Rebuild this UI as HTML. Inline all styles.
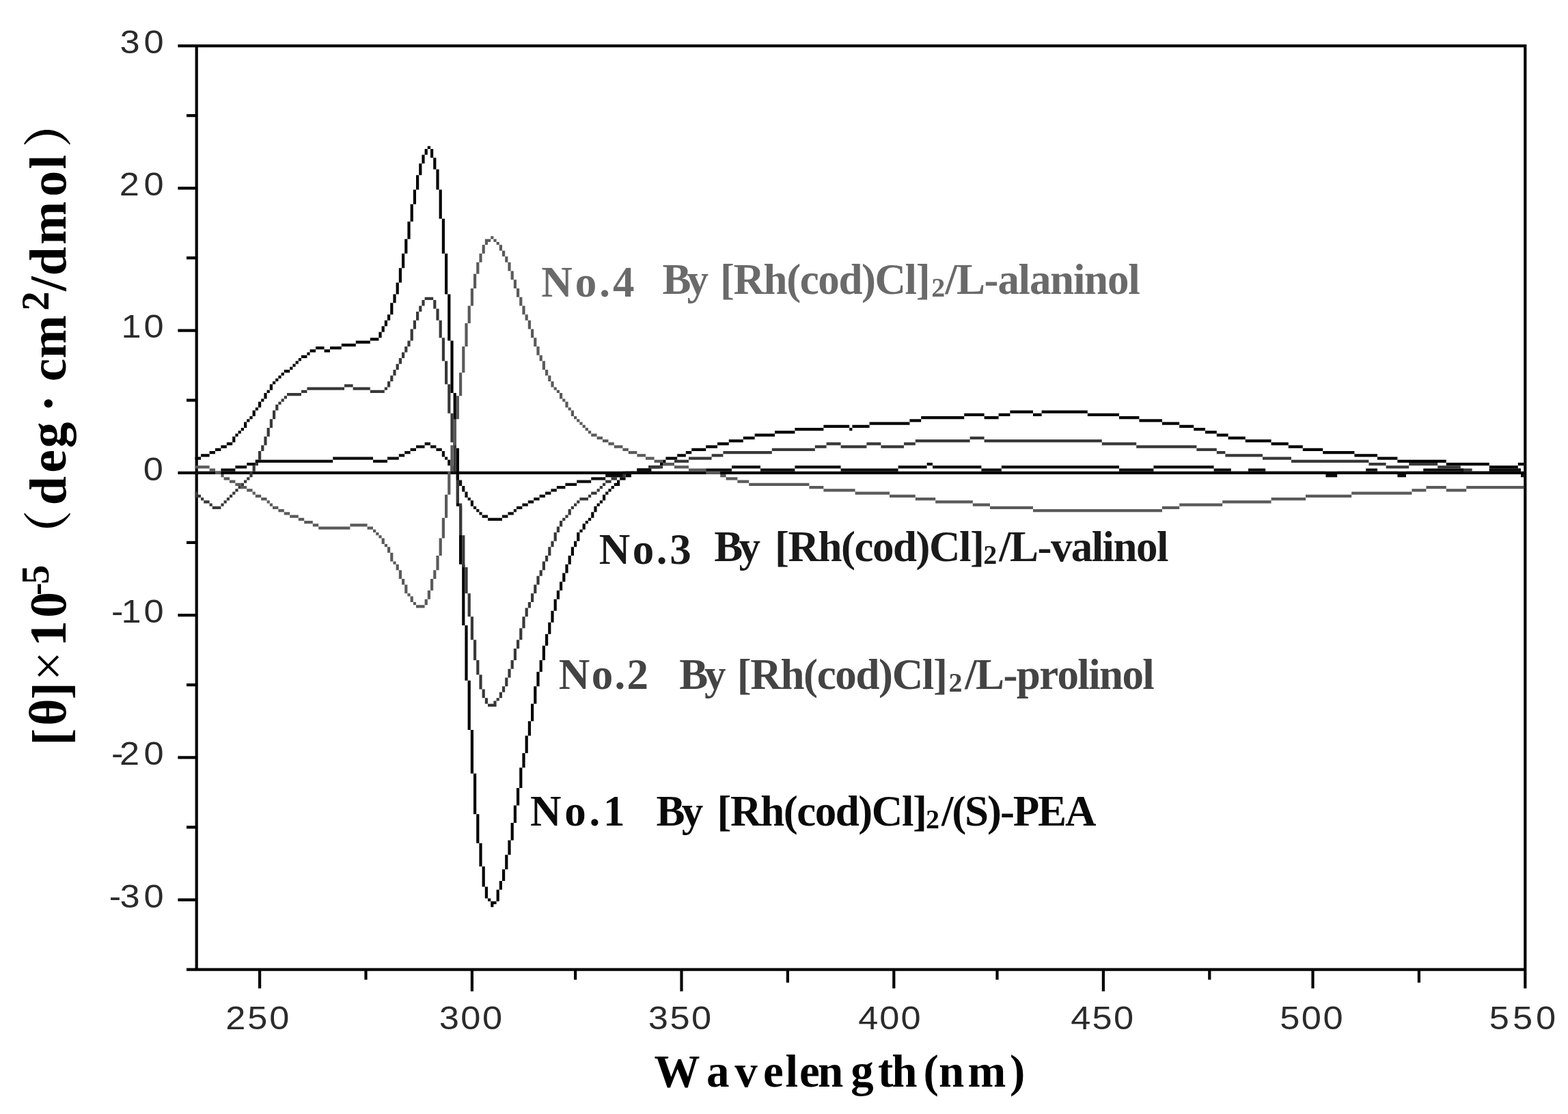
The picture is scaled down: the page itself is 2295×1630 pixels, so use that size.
<!DOCTYPE html>
<html lang="en"><head><meta charset="utf-8"><title>CD spectra</title>
<style>html,body{margin:0;padding:0;background:#fff}body{width:2295px;height:1630px;overflow:hidden}svg{display:block}.tk{font-family:"Liberation Sans",sans-serif}.sb{font-family:"Liberation Serif","Noto Serif CJK SC",serif;font-weight:bold}</style></head><body>
<svg width="2295" height="1630" viewBox="0 0 2295 1630">
<rect width="2295" height="1630" fill="#fff"/>
<path d="M285.6 65H289.8V1420.75H285.6zM2230.2 65H2234.4V1446.25H2230.2zM260.4 65H2234.4V69.25H260.4zM273 1416.5H2234.4V1420.75H273zM260.4 689.75H2234.4V694H260.4zM260.4 273.25H286.6V277.5H260.4zM260.4 481.5H286.6V485.75H260.4zM260.4 898H286.6V902.25H260.4zM260.4 1106.25H286.6V1110.5H260.4zM260.4 1314.5H286.6V1318.75H260.4zM273 167H286.6V171.25H273zM273 375.25H286.6V379.5H273zM273 583.5H286.6V587.75H273zM273 791.75H286.6V796H273zM273 1000H286.6V1004.25H273zM273 1208.25H286.6V1212.5H273zM378 1419.75H382.2V1446.25H378zM688.8 1419.75H693V1450.5H688.8zM995.4 1419.75H999.6V1450.5H995.4zM1306.2 1419.75H1310.4V1446.25H1306.2zM1612.8 1419.75H1617V1450.5H1612.8zM1919.4 1419.75H1923.6V1446.25H1919.4zM533.4 1419.75H537.6V1433.5H533.4zM840 1419.75H844.2V1433.5H840zM1150.8 1419.75H1155V1437.75H1150.8zM1457.4 1419.75H1461.6V1433.5H1457.4zM1768.2 1419.75H1772.4V1433.5H1768.2zM2074.8 1419.75H2079V1437.75H2074.8z" fill="#000"/>
<path d="M285.6 668.5h8.4v4.25h-8.4zM294 664.25h12.6v4.25h-12.6zM306.6 660h8.4v4.25h-8.4zM315 655.75h8.4v4.25h-8.4zM323.4 651.5h8.4v4.25h-8.4zM331.8 647.25h8.4v4.25h-8.4zM340.2 638.75h4.2v8.5h-4.2zM344.4 634.5h4.2v4.25h-4.2zM348.6 630.25h4.2v4.25h-4.2zM352.8 626h4.2v4.25h-4.2zM357 617.5h4.2v8.5h-4.2zM361.2 613.25h4.2v4.25h-4.2zM365.4 609h4.2v4.25h-4.2zM369.6 600.5h4.2v8.5h-4.2zM373.8 596.25h4.2v4.25h-4.2zM378 587.75h4.2v8.5h-4.2zM382.2 583.5h4.2v4.25h-4.2zM386.4 575h4.2v8.5h-4.2zM390.6 570.75h4.2v4.25h-4.2zM394.8 562.25h4.2v8.5h-4.2zM399 558h4.2v4.25h-4.2zM403.2 553.75h4.2v4.25h-4.2zM407.4 549.5h4.2v4.25h-4.2zM411.6 545.25h4.2v4.25h-4.2zM415.8 541h8.4v4.25h-8.4zM424.2 536.75h4.2v4.25h-4.2zM428.4 532.5h4.2v4.25h-4.2zM432.6 528.25h4.2v4.25h-4.2zM436.8 524h4.2v4.25h-4.2zM441 519.75h8.4v4.25h-8.4zM449.4 515.5h4.2v4.25h-4.2zM453.6 511.25h8.4v4.25h-8.4zM462 507h12.6v4.25h-12.6zM474.6 511.25h8.4v4.25h-8.4zM483 507h16.8v4.25h-16.8zM499.8 502.75h21v4.25h-21zM520.8 498.5h21v4.25h-21zM541.8 494.25h12.6v4.25h-12.6zM554.4 485.75h4.2v8.5h-4.2zM558.6 477.25h4.2v8.5h-4.2zM562.8 468.75h4.2v8.5h-4.2zM567 460.25h4.2v8.5h-4.2zM571.2 443.25h4.2v17h-4.2zM575.4 430.5h4.2v12.75h-4.2zM579.6 413.5h4.2v17h-4.2zM583.8 392.25h4.2v21.25h-4.2zM588 371h4.2v21.25h-4.2zM592.2 349.75h4.2v21.25h-4.2zM596.4 324.25h4.2v25.5h-4.2zM600.6 298.75h4.2v25.5h-4.2zM604.8 277.5h4.2v21.25h-4.2zM609 256.25h4.2v21.25h-4.2zM613.2 239.25h4.2v17h-4.2zM617.4 226.5h4.2v12.75h-4.2zM621.6 218h4.2v8.5h-4.2zM625.8 213.75h4.2v4.25h-4.2zM630 218h4.2v12.75h-4.2zM634.2 230.75h4.2v17h-4.2zM638.4 247.75h4.2v29.75h-4.2zM642.6 277.5h4.2v42.5h-4.2zM646.8 320h4.2v51h-4.2zM651 371h4.2v59.5h-4.2zM655.2 430.5h4.2v68h-4.2zM659.4 498.5h4.2v76.5h-4.2zM663.6 575h4.2v80.75h-4.2zM667.8 655.75h4.2v85h-4.2zM672 740.75h4.2v85h-4.2zM676.2 825.75h4.2v89.25h-4.2zM680.4 915h4.2v80.75h-4.2zM684.6 995.75h4.2v72.25h-4.2zM688.8 1068h4.2v63.75h-4.2zM693 1131.75h4.2v59.5h-4.2zM697.2 1191.25h4.2v42.5h-4.2zM701.4 1233.75h4.2v34h-4.2zM705.6 1267.75h4.2v29.75h-4.2zM709.8 1297.5h4.2v17h-4.2zM714 1314.5h4.2v4.25h-4.2zM718.2 1318.75h4.2v8.5h-4.2zM722.4 1318.75h4.2v4.25h-4.2zM726.6 1301.75h4.2v17h-4.2zM730.8 1289h4.2v12.75h-4.2zM735 1272h4.2v17h-4.2zM739.2 1250.75h4.2v21.25h-4.2zM743.4 1229.5h4.2v21.25h-4.2zM747.6 1204h4.2v25.5h-4.2zM751.8 1178.5h4.2v25.5h-4.2zM756 1153h4.2v25.5h-4.2zM760.2 1123.25h4.2v29.75h-4.2zM764.4 1102h4.2v21.25h-4.2zM768.6 1076.5h4.2v25.5h-4.2zM772.8 1055.25h4.2v21.25h-4.2zM777 1029.75h4.2v25.5h-4.2zM781.2 1004.25h4.2v25.5h-4.2zM785.4 983h4.2v21.25h-4.2zM789.6 966h4.2v17h-4.2zM793.8 944.75h4.2v21.25h-4.2zM798 927.75h4.2v17h-4.2zM802.2 910.75h4.2v17h-4.2zM806.4 893.75h4.2v17h-4.2zM810.6 876.75h4.2v17h-4.2zM814.8 864h4.2v12.75h-4.2zM819 851.25h4.2v12.75h-4.2zM823.2 838.5h4.2v12.75h-4.2zM827.4 825.75h4.2v12.75h-4.2zM831.6 813h4.2v12.75h-4.2zM835.8 800.25h4.2v12.75h-4.2zM840 791.75h4.2v8.5h-4.2zM844.2 779h4.2v12.75h-4.2zM848.4 774.75h4.2v4.25h-4.2zM852.6 766.25h4.2v8.5h-4.2zM856.8 762h4.2v4.25h-4.2zM861 757.75h4.2v4.25h-4.2zM865.2 749.25h4.2v8.5h-4.2zM869.4 740.75h4.2v8.5h-4.2zM873.6 736.5h4.2v4.25h-4.2zM877.8 732.25h4.2v4.25h-4.2zM882 723.75h4.2v8.5h-4.2zM886.2 719.5h4.2v4.25h-4.2zM890.4 715.25h4.2v4.25h-4.2zM894.6 711h4.2v4.25h-4.2zM898.8 706.75h4.2v4.25h-4.2zM903 702.5h4.2v8.5h-4.2zM907.2 698.25h8.4v4.25h-8.4zM915.6 694h8.4v4.25h-8.4zM924 689.75h4.2v4.25h-4.2zM932.4 685.5h16.8v4.25h-16.8zM949.2 681.25h16.8v4.25h-16.8zM966 677h4.2v4.25h-4.2zM970.2 672.75h4.2v4.25h-4.2zM974.4 668.5h16.8v4.25h-16.8zM991.2 664.25h12.6v4.25h-12.6zM1003.8 660h8.4v4.25h-8.4zM1012.2 655.75h21v4.25h-21zM1033.2 651.5h16.8v4.25h-16.8zM1050 647.25h16.8v4.25h-16.8zM1066.8 643h21v4.25h-21zM1087.8 638.75h16.8v4.25h-16.8zM1104.6 634.5h29.4v4.25h-29.4zM1134 630.25h29.4v4.25h-29.4zM1163.4 626h42v4.25h-42zM1205.4 621.75h37.8v4.25h-37.8zM1243.2 626h4.2v4.25h-4.2zM1247.4 621.75h25.2v4.25h-25.2zM1272.6 617.5h58.8v4.25h-58.8zM1331.4 613.25h16.8v4.25h-16.8zM1348.2 609h63v4.25h-63zM1411.2 604.75h29.4v4.25h-29.4zM1440.6 609h21v4.25h-21zM1461.6 604.75h16.8v4.25h-16.8zM1478.4 600.5h33.6v4.25h-33.6zM1512 604.75h12.6v4.25h-12.6zM1524.6 600.5h67.2v4.25h-67.2zM1591.8 604.75h46.2v4.25h-46.2zM1638 609h29.4v4.25h-29.4zM1667.4 613.25h33.6v4.25h-33.6zM1701 617.5h25.2v4.25h-25.2zM1726.2 621.75h21v4.25h-21zM1747.2 626h16.8v4.25h-16.8zM1764 630.25h16.8v4.25h-16.8zM1780.8 634.5h16.8v4.25h-16.8zM1797.6 638.75h25.2v4.25h-25.2zM1822.8 643h37.8v4.25h-37.8zM1860.6 647.25h25.2v4.25h-25.2zM1885.8 651.5h21v4.25h-21zM1906.8 655.75h29.4v4.25h-29.4zM1936.2 660h46.2v4.25h-46.2zM1982.4 664.25h33.6v4.25h-33.6zM2016 668.5h29.4v4.25h-29.4zM2045.4 672.75h71.4v4.25h-71.4zM2116.8 677h63v4.25h-63zM2179.8 681.25h42v4.25h-42zM2221.8 677h8.4v4.25h-8.4z" fill="#000"/>
<path d="M285.6 719.5h4.2v8.5h-4.2zM289.8 723.75h4.2v4.25h-4.2zM294 728h4.2v4.25h-4.2zM298.2 732.25h8.4v4.25h-8.4zM306.6 736.5h4.2v4.25h-4.2zM310.8 740.75h12.6v4.25h-12.6zM323.4 736.5h4.2v4.25h-4.2zM327.6 732.25h4.2v4.25h-4.2zM331.8 728h4.2v4.25h-4.2zM336 723.75h4.2v4.25h-4.2zM340.2 719.5h4.2v4.25h-4.2zM344.4 715.25h4.2v4.25h-4.2zM348.6 711h4.2v4.25h-4.2zM352.8 706.75h4.2v4.25h-4.2zM357 702.5h4.2v4.25h-4.2zM361.2 698.25h4.2v4.25h-4.2zM365.4 689.75h4.2v8.5h-4.2zM369.6 681.25h4.2v8.5h-4.2zM373.8 672.75h4.2v8.5h-4.2zM378 660h4.2v12.75h-4.2zM382.2 651.5h4.2v8.5h-4.2zM386.4 638.75h4.2v12.75h-4.2zM390.6 626h4.2v12.75h-4.2zM394.8 613.25h4.2v12.75h-4.2zM399 600.5h4.2v12.75h-4.2zM403.2 592h4.2v8.5h-4.2zM407.4 587.75h4.2v4.25h-4.2zM411.6 583.5h4.2v4.25h-4.2zM415.8 579.25h4.2v4.25h-4.2zM420 575h21v4.25h-21zM441 570.75h8.4v4.25h-8.4zM449.4 566.5h54.6v4.25h-54.6zM504 562.25h12.6v4.25h-12.6zM516.6 566.5h25.2v4.25h-25.2zM541.8 570.75h21v4.25h-21zM562.8 566.5h4.2v4.25h-4.2zM567 558h4.2v8.5h-4.2zM571.2 549.5h4.2v8.5h-4.2zM575.4 541h4.2v8.5h-4.2zM579.6 532.5h4.2v8.5h-4.2zM583.8 524h4.2v8.5h-4.2zM588 515.5h4.2v8.5h-4.2zM592.2 507h4.2v8.5h-4.2zM596.4 498.5h4.2v8.5h-4.2zM600.6 481.5h4.2v17h-4.2zM604.8 468.75h4.2v12.75h-4.2zM609 456h4.2v12.75h-4.2zM613.2 447.5h4.2v8.5h-4.2zM617.4 439h4.2v8.5h-4.2zM621.6 434.75h12.6v4.25h-12.6zM634.2 439h4.2v12.75h-4.2zM638.4 451.75h4.2v17h-4.2zM642.6 468.75h4.2v25.5h-4.2zM646.8 494.25h4.2v34h-4.2zM651 528.25h4.2v34h-4.2zM655.2 562.25h4.2v42.5h-4.2zM659.4 604.75h4.2v42.5h-4.2zM663.6 647.25h4.2v46.75h-4.2zM667.8 694h4.2v42.5h-4.2zM672 736.5h4.2v46.75h-4.2zM676.2 783.25h4.2v46.75h-4.2zM680.4 830h4.2v38.25h-4.2zM684.6 868.25h4.2v34h-4.2zM688.8 902.25h4.2v34h-4.2zM693 936.25h4.2v29.75h-4.2zM697.2 966h4.2v21.25h-4.2zM701.4 987.25h4.2v21.25h-4.2zM705.6 1008.5h4.2v12.75h-4.2zM709.8 1021.25h4.2v8.5h-4.2zM714 1029.75h8.4v4.25h-8.4zM722.4 1025.5h4.2v8.5h-4.2zM726.6 1021.25h4.2v4.25h-4.2zM730.8 1012.75h4.2v8.5h-4.2zM735 1004.25h4.2v8.5h-4.2zM739.2 991.5h4.2v12.75h-4.2zM743.4 978.75h4.2v12.75h-4.2zM747.6 966h4.2v12.75h-4.2zM751.8 949h4.2v17h-4.2zM756 936.25h4.2v12.75h-4.2zM760.2 919.25h4.2v17h-4.2zM764.4 902.25h4.2v17h-4.2zM768.6 889.5h4.2v12.75h-4.2zM772.8 881h4.2v8.5h-4.2zM777 868.25h4.2v12.75h-4.2zM781.2 855.5h4.2v12.75h-4.2zM785.4 842.75h4.2v12.75h-4.2zM789.6 834.25h4.2v8.5h-4.2zM793.8 821.5h4.2v12.75h-4.2zM798 813h4.2v8.5h-4.2zM802.2 800.25h4.2v12.75h-4.2zM806.4 791.75h4.2v8.5h-4.2zM810.6 779h4.2v12.75h-4.2zM814.8 770.5h4.2v8.5h-4.2zM819 762h4.2v8.5h-4.2zM823.2 757.75h4.2v4.25h-4.2zM827.4 753.5h4.2v4.25h-4.2zM831.6 745h4.2v8.5h-4.2zM835.8 740.75h4.2v4.25h-4.2zM840 736.5h4.2v4.25h-4.2zM844.2 732.25h4.2v4.25h-4.2zM848.4 728h12.6v4.25h-12.6zM861 723.75h4.2v4.25h-4.2zM865.2 719.5h8.4v4.25h-8.4zM873.6 715.25h4.2v4.25h-4.2zM877.8 711h4.2v4.25h-4.2zM882 706.75h4.2v4.25h-4.2zM886.2 702.5h8.4v4.25h-8.4zM894.6 698.25h8.4v4.25h-8.4zM903 694h12.6v4.25h-12.6zM915.6 689.75h16.8v4.25h-16.8zM932.4 685.5h16.8v4.25h-16.8zM949.2 681.25h21v4.25h-21zM970.2 677h16.8v4.25h-16.8zM987 672.75h21v4.25h-21zM1008 668.5h33.6v4.25h-33.6zM1041.6 664.25h16.8v4.25h-16.8zM1058.4 660h71.4v4.25h-71.4zM1129.8 655.75h63v4.25h-63zM1192.8 651.5h16.8v4.25h-16.8zM1209.6 647.25h21v4.25h-21zM1230.6 651.5h37.8v4.25h-37.8zM1268.4 647.25h21v4.25h-21zM1289.4 651.5h33.6v4.25h-33.6zM1323 647.25h16.8v4.25h-16.8zM1339.8 643h79.8v4.25h-79.8zM1419.6 638.75h21v4.25h-21zM1440.6 643h172.2v4.25h-172.2zM1612.8 647.25h50.4v4.25h-50.4zM1663.2 651.5h88.2v4.25h-88.2zM1751.4 655.75h29.4v4.25h-29.4zM1780.8 660h12.6v4.25h-12.6zM1793.4 664.25h54.6v4.25h-54.6zM1848 668.5h42v4.25h-42zM1890 672.75h113.4v4.25h-113.4zM2003.4 677h25.2v4.25h-25.2zM2028.6 681.25h33.6v4.25h-33.6zM2062.2 677h42v4.25h-42zM2104.2 681.25h33.6v4.25h-33.6zM2137.8 685.5h16.8v4.25h-16.8zM2154.6 689.75h25.2v4.25h-25.2zM2179.8 685.5h46.2v4.25h-46.2z" fill="#383838"/>
<path d="M285.6 689.75h37.8v4.25h-37.8zM323.4 685.5h21v4.25h-21zM344.4 681.25h16.8v4.25h-16.8zM361.2 677h12.6v4.25h-12.6zM373.8 672.75h113.4v4.25h-113.4zM487.2 668.5h58.8v4.25h-58.8zM546 672.75h21v4.25h-21zM567 668.5h16.8v4.25h-16.8zM583.8 664.25h8.4v4.25h-8.4zM592.2 660h8.4v4.25h-8.4zM600.6 655.75h8.4v4.25h-8.4zM609 651.5h12.6v4.25h-12.6zM621.6 647.25h8.4v4.25h-8.4zM630 651.5h8.4v4.25h-8.4zM638.4 655.75h8.4v4.25h-8.4zM646.8 660h4.2v8.5h-4.2zM651 668.5h4.2v4.25h-4.2zM655.2 672.75h4.2v8.5h-4.2zM659.4 681.25h4.2v8.5h-4.2zM663.6 689.75h4.2v4.25h-4.2zM667.8 694h4.2v8.5h-4.2zM672 702.5h4.2v8.5h-4.2zM676.2 711h4.2v8.5h-4.2zM680.4 719.5h4.2v8.5h-4.2zM684.6 728h4.2v4.25h-4.2zM688.8 732.25h4.2v8.5h-4.2zM693 740.75h4.2v4.25h-4.2zM697.2 745h4.2v4.25h-4.2zM701.4 749.25h4.2v4.25h-4.2zM705.6 753.5h8.4v4.25h-8.4zM714 757.75h21v4.25h-21zM735 753.5h8.4v4.25h-8.4zM743.4 749.25h8.4v4.25h-8.4zM751.8 745h4.2v4.25h-4.2zM756 740.75h8.4v4.25h-8.4zM764.4 736.5h8.4v4.25h-8.4zM772.8 732.25h8.4v4.25h-8.4zM781.2 728h8.4v4.25h-8.4zM789.6 723.75h8.4v4.25h-8.4zM798 719.5h8.4v4.25h-8.4zM806.4 715.25h8.4v4.25h-8.4zM814.8 711h12.6v4.25h-12.6zM827.4 706.75h16.8v4.25h-16.8zM844.2 702.5h21v4.25h-21zM865.2 698.25h21v4.25h-21zM886.2 694h25.2v4.25h-25.2zM911.4 689.75h21v4.25h-21zM932.4 685.5h16.8v4.25h-16.8zM949.2 685.5h4.2v8.5h-4.2zM953.4 689.75h79.8v4.25h-79.8zM1033.2 685.5h37.8v4.25h-37.8zM1071 681.25h42v4.25h-42zM1113 685.5h50.4v4.25h-50.4zM1163.4 681.25h67.2v4.25h-67.2zM1230.6 685.5h84v4.25h-84zM1314.6 681.25h42v4.25h-42zM1356.6 677h8.4v4.25h-8.4zM1365 681.25h71.4v4.25h-71.4zM1436.4 685.5h29.4v4.25h-29.4zM1465.8 681.25h172.2v4.25h-172.2zM1638 685.5h50.4v4.25h-50.4zM1688.4 681.25h88.2v4.25h-88.2zM1776.6 685.5h25.2v4.25h-25.2zM1801.8 689.75h25.2v4.25h-25.2zM1827 685.5h25.2v4.25h-25.2zM1852.2 689.75h88.2v4.25h-88.2zM1940.4 694h16.8v4.25h-16.8zM1957.2 689.75h42v4.25h-42zM1999.2 685.5h16.8v4.25h-16.8zM2016 689.75h29.4v4.25h-29.4zM2045.4 694h12.6v4.25h-12.6zM2058 689.75h25.2v4.25h-25.2zM2083.2 685.5h58.8v4.25h-58.8zM2142 689.75h37.8v4.25h-37.8zM2179.8 685.5h46.2v4.25h-46.2zM2226 694h4.2v4.25h-4.2z" fill="#0d0d0d"/>
<path d="M285.6 681.25h21v4.25h-21zM306.6 685.5h8.4v4.25h-8.4zM315 689.75h8.4v4.25h-8.4zM323.4 694h4.2v4.25h-4.2zM327.6 698.25h8.4v4.25h-8.4zM336 702.5h8.4v4.25h-8.4zM344.4 706.75h8.4v4.25h-8.4zM352.8 711h8.4v4.25h-8.4zM361.2 715.25h8.4v4.25h-8.4zM369.6 719.5h4.2v4.25h-4.2zM373.8 723.75h8.4v4.25h-8.4zM382.2 728h8.4v4.25h-8.4zM390.6 732.25h4.2v4.25h-4.2zM394.8 736.5h4.2v4.25h-4.2zM399 740.75h8.4v4.25h-8.4zM407.4 745h8.4v4.25h-8.4zM415.8 749.25h8.4v4.25h-8.4zM424.2 753.5h12.6v4.25h-12.6zM436.8 757.75h8.4v4.25h-8.4zM445.2 762h12.6v4.25h-12.6zM457.8 766.25h8.4v4.25h-8.4zM466.2 770.5h46.2v4.25h-46.2zM512.4 766.25h25.2v4.25h-25.2zM537.6 770.5h8.4v4.25h-8.4zM546 774.75h4.2v4.25h-4.2zM550.2 779h4.2v4.25h-4.2zM554.4 783.25h4.2v4.25h-4.2zM558.6 787.5h4.2v8.5h-4.2zM562.8 796h4.2v4.25h-4.2zM567 800.25h4.2v8.5h-4.2zM571.2 808.75h4.2v12.75h-4.2zM575.4 821.5h4.2v4.25h-4.2zM579.6 825.75h4.2v8.5h-4.2zM583.8 834.25h4.2v12.75h-4.2zM588 847h4.2v8.5h-4.2zM592.2 855.5h4.2v12.75h-4.2zM596.4 868.25h4.2v4.25h-4.2zM600.6 872.5h4.2v8.5h-4.2zM604.8 881h4.2v4.25h-4.2zM609 885.25h12.6v4.25h-12.6zM621.6 876.75h4.2v8.5h-4.2zM625.8 864h4.2v12.75h-4.2zM630 847h4.2v17h-4.2zM634.2 834.25h4.2v12.75h-4.2zM638.4 813h4.2v21.25h-4.2zM642.6 787.5h4.2v25.5h-4.2zM646.8 757.75h4.2v29.75h-4.2zM651 723.75h4.2v34h-4.2zM655.2 689.75h4.2v34h-4.2zM659.4 651.5h4.2v38.25h-4.2zM663.6 613.25h4.2v38.25h-4.2zM667.8 579.25h4.2v34h-4.2zM672 545.25h4.2v34h-4.2zM676.2 507h4.2v38.25h-4.2zM680.4 473h4.2v34h-4.2zM684.6 447.5h4.2v25.5h-4.2zM688.8 422h4.2v25.5h-4.2zM693 400.75h4.2v21.25h-4.2zM697.2 383.75h4.2v17h-4.2zM701.4 371h4.2v12.75h-4.2zM705.6 358.25h4.2v12.75h-4.2zM709.8 349.75h4.2v8.5h-4.2zM714 349.75h4.2v4.25h-4.2zM718.2 345.5h4.2v4.25h-4.2zM722.4 349.75h4.2v4.25h-4.2zM726.6 354h4.2v4.25h-4.2zM730.8 358.25h4.2v8.5h-4.2zM735 366.75h4.2v8.5h-4.2zM739.2 375.25h4.2v8.5h-4.2zM743.4 383.75h4.2v12.75h-4.2zM747.6 396.5h4.2v12.75h-4.2zM751.8 409.25h4.2v12.75h-4.2zM756 422h4.2v12.75h-4.2zM760.2 434.75h4.2v12.75h-4.2zM764.4 447.5h4.2v12.75h-4.2zM768.6 460.25h4.2v8.5h-4.2zM772.8 468.75h4.2v12.75h-4.2zM777 481.5h4.2v12.75h-4.2zM781.2 494.25h4.2v12.75h-4.2zM785.4 507h4.2v12.75h-4.2zM789.6 519.75h4.2v8.5h-4.2zM793.8 528.25h4.2v12.75h-4.2zM798 541h4.2v8.5h-4.2zM802.2 549.5h4.2v8.5h-4.2zM806.4 558h4.2v8.5h-4.2zM810.6 566.5h4.2v4.25h-4.2zM814.8 570.75h4.2v4.25h-4.2zM819 575h4.2v8.5h-4.2zM823.2 583.5h4.2v4.25h-4.2zM827.4 587.75h4.2v8.5h-4.2zM831.6 596.25h4.2v4.25h-4.2zM835.8 600.5h4.2v8.5h-4.2zM840 609h4.2v4.25h-4.2zM844.2 613.25h4.2v4.25h-4.2zM848.4 617.5h4.2v4.25h-4.2zM852.6 621.75h4.2v4.25h-4.2zM856.8 626h4.2v4.25h-4.2zM861 630.25h4.2v4.25h-4.2zM865.2 634.5h8.4v4.25h-8.4zM873.6 638.75h8.4v4.25h-8.4zM882 643h8.4v4.25h-8.4zM890.4 647.25h8.4v4.25h-8.4zM898.8 651.5h12.6v4.25h-12.6zM911.4 655.75h8.4v4.25h-8.4zM919.8 660h12.6v4.25h-12.6zM932.4 664.25h12.6v4.25h-12.6zM945 668.5h12.6v4.25h-12.6zM957.6 672.75h12.6v4.25h-12.6zM970.2 677h16.8v4.25h-16.8zM987 681.25h21v4.25h-21zM1008 685.5h25.2v4.25h-25.2zM1033.2 689.75h21v4.25h-21zM1054.2 694h8.4v4.25h-8.4zM1062.6 698.25h16.8v4.25h-16.8zM1079.4 702.5h16.8v4.25h-16.8zM1096.2 706.75h88.2v4.25h-88.2zM1184.4 711h21v4.25h-21zM1205.4 715.25h46.2v4.25h-46.2zM1251.6 719.5h50.4v4.25h-50.4zM1302 723.75h37.8v4.25h-37.8zM1339.8 728h29.4v4.25h-29.4zM1369.2 732.25h54.6v4.25h-54.6zM1423.8 736.5h25.2v4.25h-25.2zM1449 740.75h63v4.25h-63zM1512 745h189v4.25h-189zM1701 740.75h25.2v4.25h-25.2zM1726.2 736.5h63v4.25h-63zM1789.2 732.25h71.4v4.25h-71.4zM1860.6 728h50.4v4.25h-50.4zM1911 723.75h67.2v4.25h-67.2zM1978.2 719.5h88.2v4.25h-88.2zM2066.4 715.25h21v4.25h-21zM2087.4 711h29.4v4.25h-29.4zM2116.8 715.25h29.4v4.25h-29.4zM2146.2 711h84v4.25h-84z" fill="#5a5a5a"/>
<text class="tk" font-size="48.5" fill="#2b2b2b" transform="scale(1.08,1)" x="305.9 335.5 365" y="1506 1506 1506">250</text>
<text class="tk" font-size="48.5" fill="#2b2b2b" transform="scale(1.08,1)" x="595.1 624.4 653.6" y="1506 1506 1506">300</text>
<text class="tk" font-size="48.5" fill="#2b2b2b" transform="scale(1.08,1)" x="878.5 907.8 937.1" y="1506 1506 1506">350</text>
<text class="tk" font-size="48.5" fill="#2b2b2b" transform="scale(1.08,1)" x="1163.1 1191.9 1220.8" y="1506 1506 1506">400</text>
<text class="tk" font-size="48.5" fill="#2b2b2b" transform="scale(1.08,1)" x="1451.1 1480.2 1509.3" y="1506 1506 1506">450</text>
<text class="tk" font-size="48.5" fill="#2b2b2b" transform="scale(1.08,1)" x="1734.4 1763.7 1793" y="1506 1506 1506">500</text>
<text class="tk" font-size="48.5" fill="#2b2b2b" transform="scale(1.08,1)" x="2018.3 2049.9 2081.4" y="1506 1506 1506">550</text>
<text class="tk" font-size="48.5" fill="#2b2b2b" transform="scale(1.08,1)" x="162.4 194.9" y="77.7 77.7">30</text>
<text class="tk" font-size="48.5" fill="#2b2b2b" transform="scale(1.08,1)" x="161.8 194.9" y="286 286">20</text>
<text class="tk" font-size="48.5" fill="#2b2b2b" transform="scale(1.08,1)" x="164.4 194.9" y="494.5 494.5">10</text>
<text class="tk" font-size="48.5" fill="#2b2b2b" transform="scale(1.08,1)" x="194.3" y="702.7">0</text>
<text class="tk" font-size="48.5" fill="#2b2b2b" transform="scale(1.08,1)" x="151 164.4 194.9" y="910.9 910.9 910.9">-10</text>
<text class="tk" font-size="48.5" fill="#2b2b2b" transform="scale(1.08,1)" x="151 162.1 194.9" y="1119.3 1119.3 1119.3">-20</text>
<text class="tk" font-size="48.5" fill="#2b2b2b" transform="scale(1.08,1)" x="147.9 162.4 194.9" y="1327.7 1327.7 1327.7">-30</text>
<text class="sb" font-size="63" fill="#6a6a6a" x="792.3 841.8 877.3 897.1 907.1 969.4 1005.6 1015.6 1053.9 1073.5 1117.6 1151.2 1170.7 1197.3 1227.4 1261 1280.5 1324.6 1340.7 1363.3 1383.6 1399.9 1440.6 1460.4 1490.6 1506.9 1537.1 1570.9 1587.1 1620.9 1651.2" y="433.9 433.9 433.9 433.9 433.9 430 430 430 430 430 430 430 430 430 430 430 430 430 430 433.9 430 430 430 430 430 430 430 430 430 430 430">No.4 By [Rh(cod)Cl]<tspan font-size="40">2</tspan>/L-alaninol</text>
<text class="sb" font-size="63" fill="#1a1a1a" x="876.7 925.8 960.8 980.2 990.2 1045.2 1081.5 1091.5 1133.9 1153.4 1197.4 1231 1250.5 1277 1307 1340.6 1360.1 1404.1 1420.1 1439.2 1462.2 1478.1 1518.5 1537.9 1567.8 1597.7 1613.6 1629.5 1663 1692.9" y="825.1 825.1 825.1 825.1 825.1 821.4 821.4 821.4 821.4 821.4 821.4 821.4 821.4 821.4 821.4 821.4 821.4 821.4 821.4 825.2 821.4 821.4 821.4 821.4 821.4 821.4 821.4 821.4 821.4 821.4">No.3 By [Rh(cod)Cl]<tspan font-size="40">2</tspan>/L-valinol</text>
<text class="sb" font-size="63" fill="#444" x="817.8 865.7 899.5 917.6 927.6 994.3 1030.9 1040.9 1078.7 1098.3 1142.4 1176.1 1195.7 1222.3 1252.4 1286.1 1305.7 1349.8 1365.9 1388.6 1412.2 1428.1 1468.4 1487.8 1521.2 1547.5 1577.3 1593.2 1609 1642.4 1672.3" y="1008.1 1008.1 1008.1 1008.1 1008.1 1008.1 1008.1 1008.1 1008.1 1008.1 1008.1 1008.1 1008.1 1008.1 1008.1 1008.1 1008.1 1008.1 1008.1 1012 1008.1 1008.1 1008.1 1008.1 1008.1 1008.1 1008.1 1008.1 1008.1 1008.1 1008.1">No.2 By [Rh(cod)Cl]<tspan font-size="40">2</tspan>/L-prolinol</text>
<text class="sb" font-size="63" fill="#0a0a0a" x="776.1 826.3 862.5 883 893 960.6 997.8 1007.8 1049.6 1069.1 1113.2 1146.7 1166.2 1192.7 1222.8 1256.3 1275.8 1319.9 1335.9 1355.1 1377.9 1393.3 1412.1 1445 1463.9 1482.7 1519.1 1559" y="1208.1 1208.1 1208.1 1208.1 1208.1 1208.1 1208.1 1208.1 1208.1 1208.1 1208.1 1208.1 1208.1 1208.1 1208.1 1208.1 1208.1 1208.1 1208.1 1212 1208.1 1208.1 1208.1 1208.1 1208.1 1208.1 1208.1 1208.1">No.1 By [Rh(cod)Cl]<tspan font-size="40">2</tspan>/(S)-PEA</text>
<text class="sb" font-size="67" fill="#000" x="957.5 1034 1075.2 1116.9 1149.5 1170 1196.9 1245.2 1285.1 1305.2 1351.4 1374 1416.6 1478" y="1590.3 1590.3 1590.3 1590.3 1590.3 1590.3 1590.3 1590.3 1590.3 1590.3 1590.3 1590.3 1590.3 1590.3">Wavelength(nm)</text>
<text class="sb" font-size="76" fill="#000" transform="rotate(-90)" x="-1091 -1062.1 -1023.5 -995.9 -946.1 -903.9 -871.2 -854.7 -844.7 -818.6 -739.2 -691.8 -655.6 -645.6 -602.9 -592.9 -558.2 -524.5 -454.4 -425.7 -403.6 -358 -287.8 -247.6 -215.8" y="100 96 100 96 96 96 71.2 70.8 70.8 96 96 96 96 96 96 96 96 96 70.8 96 96 96 96 96 96">[θ]<tspan font-weight="normal">×</tspan>10<tspan font-size="56">-5</tspan> <tspan font-size="72">（</tspan>deg · cm<tspan font-size="56">2</tspan>/dmol<tspan font-size="72">）</tspan></text>
</svg></body></html>
